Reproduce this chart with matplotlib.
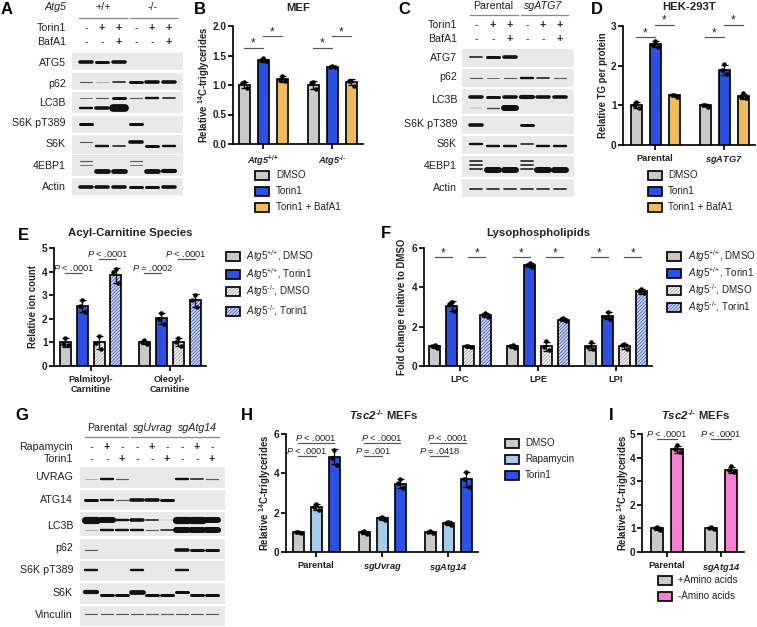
import numpy as np
import matplotlib
matplotlib.use('Agg')
from matplotlib import pyplot as plt
from matplotlib.patches import Rectangle

plt.rcParams['font.family'] = ['Liberation Sans', 'DejaVu Sans']
plt.rcParams['mathtext.fontset'] = 'custom'
plt.rcParams['mathtext.rm'] = 'Liberation Sans'
plt.rcParams['mathtext.it'] = 'Liberation Sans:italic'
plt.rcParams['mathtext.bf'] = 'Liberation Sans:bold'
plt.rcParams['mathtext.bfit'] = 'Liberation Sans:italic:bold'
plt.rcParams['hatch.linewidth'] = 0.55

W, H = 757, 627
TXT = '#222222'
GRAY, BLUE, ORANGE = '#c9c9c9', '#2b50e6', '#efbc58'
LBLUE, PINK = '#a6cbea', '#f77ed2'
# hatched fills are (face, hatch colour)
GRAY_H = ('#f1f1f1', '#a4a4a4')
BLUE_H = ('#d5dcfb', '#2b50e6')
HATCH = '/' * 10

# ---- bar data, one row per group, one entry per bar ----
B_means = [[1.0, 1.42, 1.1], [1.0, 1.31, 1.05]]
B_points = [[[1.05, 1.03, 0.95], [1.45, 1.42, 1.40], [1.16, 1.08, 1.07]],
            [[1.05, 1.03, 0.93], [1.32, 1.31, 1.31], [1.07, 1.07, 0.99]]]
D_means = [[1.0, 2.55, 1.25], [1.0, 1.9, 1.23]]
D_points = [[[1.08, 1.0, 0.93], [2.63, 2.52, 2.48], [1.25, 1.25, 1.22]],
            [[1.0, 1.02, 0.97], [2.03, 1.9, 1.78], [1.3, 1.2, 1.18]]]
E_means = [[1, 2.55, 1, 3.85], [1, 2.02, 1, 2.78]]
E_points = [[[1.2, 0.92, 0.88], [2.8, 2.55, 2.3], [1.28, 0.98, 0.72], [4.1, 4.0, 3.5]],
            [[1.1, 1.0, 0.95], [2.25, 2.0, 1.8], [1.17, 1.0, 0.83], [3.02, 2.8, 2.5]]]
F_means = [[1, 3.05, 1, 2.6], [1, 5.12, 1, 2.35], [1, 2.55, 1, 3.8]]
F_points = [[[1.07, 1.03, 0.92], [3.25, 3.15, 2.8], [1.03, 1.0, 0.97], [2.7, 2.6, 2.5]],
            [[1.07, 1.0, 0.93], [5.23, 5.12, 5.03], [1.25, 0.95, 0.8], [2.43, 2.37, 2.27]],
            [[1.2, 0.95, 0.85], [2.75, 2.5, 2.4], [1.12, 1.05, 0.85], [3.93, 3.82, 3.7]]]
H_means = [[1, 2.3, 4.85], [1, 1.72, 3.47], [1, 1.47, 3.7]]
H_points = [[[1.03, 1.0, 0.97], [2.45, 2.3, 2.15], [5.2, 4.8, 4.4]],
            [[1.05, 1.03, 0.92], [1.8, 1.72, 1.65], [3.7, 3.5, 3.25]],
            [[1.05, 1.0, 0.96], [1.55, 1.5, 1.37], [4.05, 3.7, 3.3]]]
I_means = [[1, 4.35], [1, 3.48]]
I_points = [[[1.05, 1.03, 0.95], [4.55, 4.35, 4.25]],
            [[1.04, 1.0, 0.98], [3.63, 3.48, 3.4]]]

# ---- blot band strengths, one number per lane, 0 means no band ----
A_lanes = [86, 102, 119, 136, 152, 169]
A_rows = [('ATG5', 53, 70, 63, [(62, [3, 2.5, 3, 0, 0, 0])]),
          ('p62', 73, 90, 84, [(82, [1, .5, 1.5, 2.5, 3, 3])]),
          ('LC3B', 92, 113, 103, [(98, [.8, 1, 2.5, 1, 2, 1.5]), (108, [2, 3, 6.5, 0, 0, 0])]),
          ('S6K pT389', 116, 133, 123, [(124, [2.5, 0, 0, 2.5, 0, 0])]),
          ('S6K', 135, 154, 144, [(142, [1, 0, 0, 3, 0, 0]), (146, [0, 2, 1.5, 0, 2.5, 2])]),
          ('4EBP1', 155, 176, 166, [(161, [1, 0, 0, 1, 0, 0]), (165, [.8, 0, 0, .8, 0, 0]),
                                    (171, [0, 4, 4, 0, 4, 3.5])]),
          ('Actin', 178, 195, 187, [(187, [3, 3, 3, 2.5, 2.5, 3])])]
C_lanes = [476, 493, 510, 527, 543, 560]
C_rows = [('ATG7', 49, 67, 58, [(57, [1.5, 2.5, 3, 0, 0, 0])]),
          ('p62', 69, 87, 77, [(78, [1, .8, 1, 2, 1.5, 1])]),
          ('LC3B', 89, 114, 100, [(97, [3, 2.5, 3, 3.5, 3, 3]), (108, [.4, 1.2, 5, 0, 0, 0])]),
          ('S6K pT389', 116, 134, 124, [(125, [3, 0, 0, 2.5, 0, 0])]),
          ('S6K', 136, 154, 144, [(144, [2, 0, 0, 1.5, 0, 0]), (146, [0, 2, 2, 0, 2, 2])]),
          ('4EBP1', 156, 177, 166, [(161, [1.5, 0, 0, 1.5, 0, 0]), (165, [1.5, 0, 0, 1.5, 0, 0]),
                                    (169, [1.5, 0, 0, 1.5, 0, 0]), (170, [0, 5, 5, 0, 5, 5])]),
          ('Actin', 179, 197, 188, [(189, [1.5, 1.5, 1.5, 1.5, 1.5, 1.5])])]
G_lanes = [91, 107, 122, 137, 152, 167, 182, 197, 212]
G_rows = [('UVRAG', 467, 488, 477, [(479, [.5, 2, 1, 0, 0, 0, 2, 1.5, 1])]),
          ('ATG14', 490, 510, 500, [(499.5, [2.5, 2, 1, 3, 3, 2.5, 0, 0, 0])]),
          ('LC3B', 512, 536, 526, [(520, [6, 5, 2, 3, 1.5, .3, 6, 6, 5]),
                                   (530, [.5, 2, 2, 2, 1, 1.5, 5, 5, 5])]),
          ('p62', 539, 559, 548, [(550, [1, 0, 0, 0, 0, 0, 3, 2.5, 2.5])]),
          ('S6K pT389', 561, 581, 570, [(570, [2, 0, 0, 2, 0, 0, 2, 0, 0])]),
          ('S6K', 583, 604, 593, [(592, [3.5, 0, 0, 4, 0, 0, 2.5, 0, 0]),
                                  (595, [0, 2.5, 2.5, 0, 2.5, 2.5, 0, 2.5, 2.5])]),
          ('Vinculin', 606, 626, 615, [(614, [1, 1, 1, 1, 1, 1, 1, 1, 1])])]

fig = plt.figure(figsize=(W / 100, H / 100), dpi=100)
ov = fig.add_axes([0, 0, 1, 1], zorder=0)
ov.set_xlim(0, W)
ov.set_ylim(H, 0)
ov.axis('off')


def px(v):
    # matplotlib widths are points, my measurements are pixels
    return v * 0.72


def txt(x, y, s, size=7, ha='center', **kw):
    kw.setdefault('color', TXT)
    ov.text(x, y, s, fontsize=size, ha=ha, va='center', **kw)


def blot(x0, x1, lanes, rows, labelx):
    for name, top, bot, ly, bands in rows:
        ov.add_patch(Rectangle((x0, top), x1 - x0, bot - top, fc='#e9e9e9', ec='none'))
        txt(labelx, ly, name, size=7.7, ha='right')
        for by, strength in bands:
            for lx, s in zip(lanes, strength):
                if s == 0:
                    continue
                ov.plot([lx - 6, lx + 6], [by, by], color='#111111', lw=px(s * 1.2),
                        alpha=min(1, 0.25 + s / 2.5), solid_capstyle='round')


def signs(lanes, y, marks):
    for lx, m in zip(lanes, marks):
        txt(lx, y, m, size=7.7, fontweight='bold' if m == '+' else 'normal')


def group_line(x0, x1, y):
    ov.plot([x0, x1], [y, y], color='#8a8a8a', lw=px(1.3))


def fill_bar(ax, x, y, w, style):
    if isinstance(style, tuple):
        ax.bar(x, y, w, color=style[0], edgecolor=style[1], hatch=HATCH, lw=0, zorder=2)
        ax.bar(x, y, w, color='none', edgecolor='black', lw=px(1.7), zorder=3)
    else:
        ax.bar(x, y, w, color=style, edgecolor='black', lw=px(1.7), zorder=3)


def swatches(x, items, textx, size=7.1):
    for y, style, label in items:
        if isinstance(style, tuple):
            ov.add_patch(Rectangle((x, y - 4.5), 14, 9, fc=style[0], ec=style[1], hatch=HATCH, lw=0))
            ov.add_patch(Rectangle((x, y - 4.5), 14, 9, fc='none', ec='black', lw=px(1.7)))
        else:
            ov.add_patch(Rectangle((x, y - 4.5), 14, 9, fc=style, ec='black', lw=px(1.7)))
        txt(textx, y, label, size=size, ha='left')


def chart(x0, x1, ytop, ybot, ymax, yticks, centers, step, means, points, styles,
          labels, ylabel, width=11, fmt='%g', ylabel_x=None):
    ax = fig.add_axes([x0 / W, 1 - ybot / H, (x1 - x0) / W, (ybot - ytop) / H], zorder=2)
    ax.patch.set_alpha(0)
    ax.set_xlim(x0, x1)
    ax.set_ylim(0, ymax)
    for s in ('top', 'right'):
        ax.spines[s].set_visible(False)
    for s in ('left', 'bottom'):
        ax.spines[s].set_linewidth(px(1.7))
    ax.set_yticks(yticks)
    ax.set_yticklabels([fmt % t for t in yticks], fontsize=7.3, fontweight='bold', color=TXT)
    ax.set_xticks(centers)
    ax.set_xticklabels(labels, fontsize=6.7, fontweight='bold', color=TXT, linespacing=1.15)
    ax.tick_params(width=px(1.7), length=px(5), pad=1)
    ax.tick_params(axis='x', pad=3)
    xpos = []
    for c, mm, pp in zip(centers, means, points):
        n = len(mm)
        row = []
        for i, (m, p) in enumerate(zip(mm, pp)):
            bx = c + (i - (n - 1) / 2) * step
            row.append(bx)
            fill_bar(ax, bx, m, width, styles[i])
            ax.errorbar(bx, m, yerr=np.std(p, ddof=1), color='black', lw=px(1.3),
                        capsize=px(3.5), capthick=px(1.3), zorder=4)
            ax.scatter([bx - 2.5, bx + 2.5, bx][:len(p)], [p[1], p[2], p[0]], s=px(4.5) ** 2,
                       color='black', lw=0, zorder=5, clip_on=False)
        xpos.append(row)
    ov.text(ylabel_x, (ytop + ybot) / 2, ylabel, fontsize=6.9, fontweight='bold',
            rotation=90, ha='center', va='center', color=TXT)
    return ax, xpos


def bracket(ax, xa, xb, y, label='*', textx=None, size=6.7):
    ax.plot([xa, xb], [y, y], color='#555555', lw=px(1.2), clip_on=False, zorder=6)
    tx = (xa + xb) / 2 if textx is None else textx
    if label == '*':
        ax.annotate('*', (tx, y), xytext=(0, -1.5), textcoords='offset points', ha='center',
                    va='bottom', fontsize=8.5, color=TXT, annotation_clip=False)
    else:
        ax.annotate(label, (tx, y), xytext=(0, 0), textcoords='offset points', ha='center',
                    va='bottom', fontsize=size, color=TXT, annotation_clip=False)


HY = '\u2010'
TSC = r'$\mathbfit{Tsc2}^{\mathbf{%s/%s}}$ MEFs' % (HY, HY)

# ---- panel letters and titles ----
for x, y, s in [(7, 9, 'A'), (200, 9, 'B'), (404, 9, 'C'), (597, 9, 'D'),
                (23, 235, 'E'), (386, 234, 'F'), (22, 415, 'G'), (247, 415, 'H'), (611, 415, 'I')]:
    txt(x, y, s, size=12, fontweight='bold', color='black')
for x, y, s in [(298, 8, 'MEF'), (689, 7, 'HEK-293T'), (130, 233, 'Acyl-Carnitine Species'),
                (538, 233, 'Lysophospholipids'), (383, 415, TSC), (695, 415, TSC)]:
    txt(x, y, s, size=8.2, fontweight='bold')

# ---- blots ----
blot(72, 183, A_lanes, A_rows, 66)
txt(66, 7, 'Atg5', size=7.7, ha='right', style='italic')
txt(103, 7, '+/+', size=7.7)
txt(153, 7, '-/-', size=7.7)
group_line(79, 127, 17.5)
group_line(130, 177, 17.5)
txt(66, 28, 'Torin1', size=7.7, ha='right')
txt(66, 42, 'BafA1', size=7.7, ha='right')
signs(A_lanes, 28, '-++-++')
signs(A_lanes, 42, '--+--+')

blot(462, 574, C_lanes, C_rows, 457)
txt(493, 6, 'Parental', size=7.7)
txt(543, 6, 'sgATG7', size=7.7, style='italic')
group_line(470, 518, 15)
group_line(521, 568, 15)
txt(457, 25, 'Torin1', size=7.7, ha='right')
txt(457, 39, 'BafA1', size=7.7, ha='right')
signs(C_lanes, 25, '-++-++')
signs(C_lanes, 39, '--+--+')

blot(80, 225, G_lanes, G_rows, 73)
txt(107, 428, 'Parental', size=7.7)
txt(153, 428, 'sgUvrag', size=7.7, style='italic')
txt(197, 428, 'sgAtg14', size=7.7, style='italic')
group_line(85, 128, 437)
group_line(131, 175, 437)
group_line(176, 219, 437)
txt(73, 447, 'Rapamycin', size=7.7, ha='right')
txt(73, 459, 'Torin1', size=7.7, ha='right')
signs(G_lanes, 447, '-+--+--+-')
signs(G_lanes, 459, '--+--+--+')

# ---- B ----
ATG_P = r'$\mathbfit{Atg5}^{\mathbf{{+}/{+}}}$'
ATG_M = r'$\mathbfit{Atg5}^{\mathbf{%s/%s}}$' % (HY, HY)
C14 = r'Relative $^{\mathbf{14}}$C-triglycerides'
ax, xp = chart(233, 363, 26, 144, 2.0, [0, .5, 1, 1.5, 2], [263, 332], 19, B_means, B_points,
               [GRAY, BLUE, ORANGE], [ATG_P, ATG_M], C14, fmt='%.1f', ylabel_x=204)
for r in xp:
    bracket(ax, r[0], r[1], 1.63)
    bracket(ax, r[1], r[2], 1.83)
swatches(255, [(175, GRAY, 'DMSO'), (191, BLUE, 'Torin1'), (207, ORANGE, 'Torin1 + BafA1')], 276)

# ---- D ----
ax, xp = chart(623, 755, 26, 145, 3, [0, 1, 2, 3], [655, 724], 19, D_means, D_points,
               [GRAY, BLUE, ORANGE], ['Parental', r'$\mathbfit{sgATG7}$'],
               'Relative TG per protein', ylabel_x=603)
for r in xp:
    bracket(ax, r[0], r[1], 2.72)
    bracket(ax, r[1], r[2], 3.03)
swatches(648, [(175, GRAY, 'DMSO'), (191, BLUE, 'Torin1'), (207, ORANGE, 'Torin1 + BafA1')], 668)

# ---- E ----
ax, xp = chart(54, 206, 248, 366, 5, [0, 1, 2, 3, 4, 5], [90.5, 169.5], 17, E_means, E_points,
               [GRAY, BLUE, GRAY_H, BLUE_H], ['Palmitoyl-\nCarnitine', 'Oleoyl-\nCarnitine'],
               'Relative ion count', ylabel_x=33)
P_lt = r'$\mathit{P}$ < .0001'
bracket(ax, xp[0][0], xp[0][1], 3.94, P_lt, textx=74)
bracket(ax, xp[0][2], xp[0][3], 4.53, P_lt, textx=108)
bracket(ax, xp[1][0], xp[1][1], 3.94, r'$\mathit{P}$ = .0002', textx=153)
bracket(ax, xp[1][2], xp[1][3], 4.53, P_lt, textx=186)
A5P = r'$\mathit{Atg5}^{{+}/{+}}$'
A5M = r'$\mathit{Atg5}^{%s/%s}$' % (HY, HY)
swatches(226, [(256, GRAY, A5P + ', DMSO'), (274, BLUE, A5P + ', Torin1'),
               (291, GRAY_H, A5M + ', DMSO'), (311, BLUE_H, A5M + ', Torin1')], 246)

# ---- F ----
ax, xp = chart(424, 652, 248, 366, 6, [0, 2, 4, 6], [460, 538, 616], 16.8, F_means, F_points,
               [GRAY, BLUE, GRAY_H, BLUE_H], ['LPC', 'LPE', 'LPI'],
               'Fold change relative to DMSO', ylabel_x=402)
for r in xp:
    bracket(ax, r[0], r[1], 5.54)
    bracket(ax, r[2], r[3], 5.54)
swatches(667, [(256, GRAY, A5P + ', DMSO'), (273, BLUE, A5P + ', Torin1'),
               (290, GRAY_H, A5M + ', DMSO'), (307, BLUE_H, A5M + ', Torin1')], 688)

# ---- H ----
ax, xp = chart(286, 478, 434, 552, 6, [0, 2, 4, 6], [316, 382, 448], 18, H_means, H_points,
               [GRAY, LBLUE, BLUE], ['Parental', r'$\mathbfit{sgUvrag}$', r'$\mathbfit{sgAtg14}$'],
               C14, ylabel_x=265)
low = [P_lt, r'$\mathit{P}$ = .001', r'$\mathit{P}$ = .0418']
low_x = [307, 373, 440]
for r, s, lx in zip(xp, low, low_x):
    bracket(ax, r[0], r[2], 5.54, P_lt)
    bracket(ax, r[0], r[1], 4.88, s, textx=lx)
swatches(505, [(443, GRAY, 'DMSO'), (459, LBLUE, 'Rapamycin'), (475, BLUE, 'Torin1')], 525)

# ---- I ----
ax, xp = chart(642, 744, 434, 552, 5, [0, 1, 2, 3, 4, 5], [667, 721], 20, I_means, I_points,
               [GRAY, PINK], ['Parental', r'$\mathbfit{sgAtg14}$'],
               C14, width=12, ylabel_x=623)
for r in xp:
    bracket(ax, r[0], r[1], 4.79, P_lt)
swatches(658, [(580, GRAY, '+Amino acids'), (596, PINK, '-Amino acids')], 678)

fig.savefig('out.png', dpi=100)
